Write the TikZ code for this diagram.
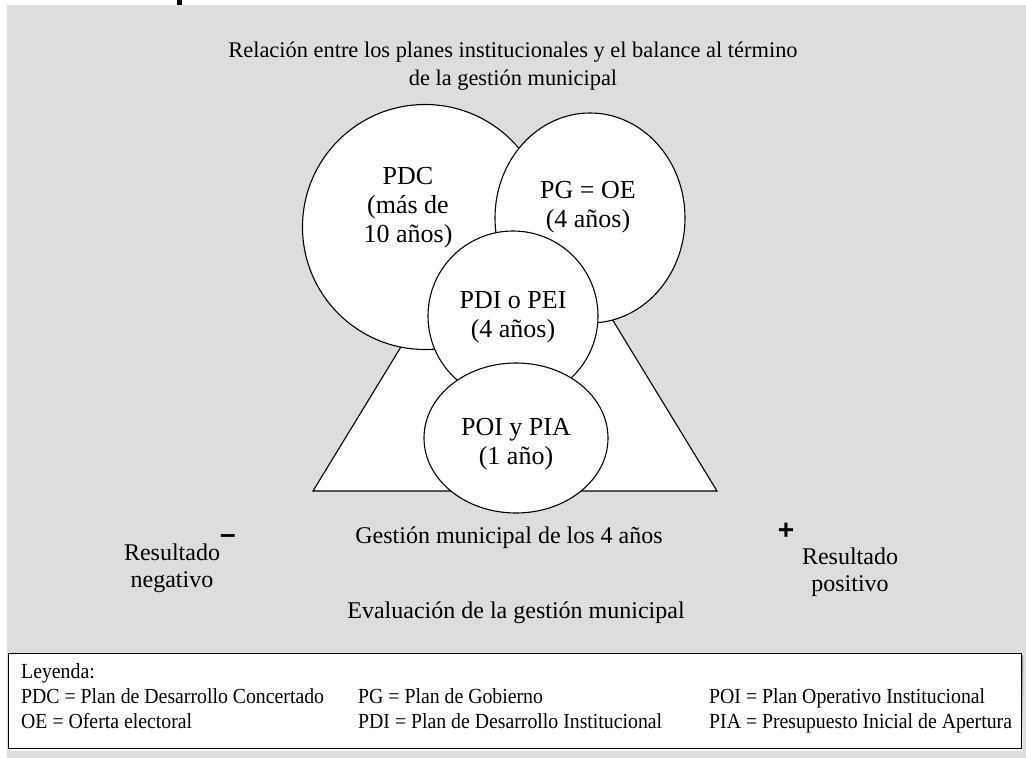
\documentclass[tikz,border=0pt]{standalone}
\usepackage{fontspec}
\setmainfont{Liberation Serif}
\newfontfamily\signfont{Liberation Sans}
\newfontfamily\legendfont[FakeStretch=0.92]{Liberation Serif}
\usetikzlibrary{shapes.geometric}
\definecolor{panel}{RGB}{220,221,223}
\definecolor{shade}{RGB}{70,70,70}
\begin{document}
\begin{tikzpicture}[x=1pt,y=-1pt,
  plan/.style={draw=black, fill=white, line width=1.1pt, inner sep=0pt},
  bodytext/.style={font=\fontsize{24}{27}\selectfont, align=center, inner sep=0pt},
  titletext/.style={font=\fontsize{22.4}{28}\selectfont, align=center, inner sep=0pt},
  plantext/.style={font=\fontsize{26}{29}\selectfont, align=center, inner sep=0pt},
  legendtext/.style={font=\legendfont\fontsize{21.5}{25}\selectfont, anchor=base west, inner sep=0pt},
  sign/.style={font=\signfont\bfseries\fontsize{28}{28}\selectfont, inner sep=0pt}]
\useasboundingbox (0,0) rectangle (1026,758);
% panel background and tab mark
\fill[panel] (7,5) rectangle (1026,758);
\fill[black] (177,0) rectangle (182,5);

% heading
\node[titletext] (title) at (513,66) {Relación entre los planes institucionales y el balance al término\\de la gestión municipal};

% four-year management triangle
\draw[plan, line join=miter] (515,160) -- (717,491) -- (313,491) -- cycle;

% nested plans
\node[plan, circle, minimum size=245pt] (pdc) at (425,227) {};
\node[plan, ellipse, minimum width=190pt, minimum height=210pt] (pg) at (590,218) {};
\node[plan, circle, minimum size=170pt] (pdi) at (513,316) {};
\node[plan, ellipse, minimum width=184pt, minimum height=150pt] (poi) at (516,438) {};

\node[plantext] (pdctext) at (408,208) {PDC\\(más de\\10 años)};
\node[plantext] (pgtext) at (588,207) {PG = OE\\(4 años)};
\node[plantext] (pditext) at (513,317) {PDI o PEI\\(4 años)};
\node[plantext] (poitext) at (516,444) {POI y PIA\\(1 año)};

% evaluation scale
\node[bodytext] (gestion) at (509,538) {Gestión municipal de los 4 años};
\node[sign] (minus) at (228,539) {–};
\node[sign] (plus) at (786,531) {+};
\node[bodytext] (neg) at (172,568) {Resultado\\negativo};
\node[bodytext] (pos) at (850,572) {Resultado\\positivo};
\node[bodytext] (eval) at (516,613) {Evaluación de la gestión municipal};

% legend
\fill[shade] (10,655) rectangle (1023,750);
\draw[fill=white, line width=0.9pt] (8,653) rectangle (1021,748);
\node[legendtext] (ley) at (21,678) {Leyenda:};
\node[legendtext] (l1) at (21,703) {PDC = Plan de Desarrollo Concertado};
\node[legendtext] (l2) at (358,703) {PG = Plan de Gobierno};
\node[legendtext] (l3) at (709,703) {POI = Plan Operativo Institucional};
\node[legendtext] (l4) at (21,728) {OE = Oferta electoral};
\node[legendtext] (l5) at (358,728) {PDI = Plan de Desarrollo Institucional};
\node[legendtext] (l6) at (709,728) {PIA = Presupuesto Inicial de Apertura};
\end{tikzpicture}
\end{document}
